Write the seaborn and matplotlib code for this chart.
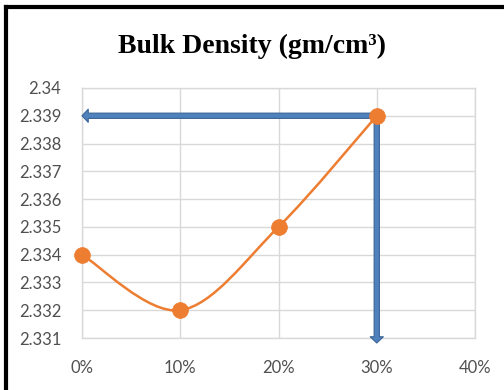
import numpy as np
import pandas as pd
import matplotlib
matplotlib.use("Agg")
import matplotlib.pyplot as plt
from matplotlib.path import Path
from matplotlib.patches import PathPatch
from matplotlib.lines import Line2D
import seaborn as sns

# Data
replacement_pct = [0, 10, 20, 30]
bulk_density = [2.334, 2.332, 2.335, 2.339]
x_tick_labels = ["0%", "10%", "20%", "30%", "40%"]
y_ticks = [2.331, 2.332, 2.333, 2.334, 2.335, 2.336, 2.337, 2.338, 2.339, 2.34]
y_tick_labels = ["2.331", "2.332", "2.333", "2.334", "2.335", "2.336",
                 "2.337", "2.338", "2.339", "2.34"]
target_pct = 30
target_density = 2.339

df = pd.DataFrame({"pct": replacement_pct, "density": bulk_density})

sns.set_theme(style="white")
plt.rcParams["font.family"] = ["Lato", "DejaVu Sans"]

fig = plt.figure(figsize=(5.04, 3.90), dpi=100)
ax = fig.add_axes([0.1627, 0.1333, 0.7798, 0.6411])

ORANGE = "#ED7D31"
BLUE = "#4F81BD"
BLUE_EDGE = "#3A6597"
GRID = "#D9D9D9"
TEXT = "#505050"

ax.set_xlim(0, 40)
ax.set_ylim(2.331, 2.340)
ax.set_xticks([0, 10, 20, 30, 40])
ax.set_xticklabels(x_tick_labels)
ax.set_yticks(y_ticks)
ax.set_yticklabels(y_tick_labels)
ax.grid(True, color=GRID, linewidth=1.0)
ax.set_axisbelow(True)
for s in ax.spines.values():
    s.set_color(GRID)
    s.set_linewidth(1.0)
ax.tick_params(axis="both", length=0, labelsize=12, colors=TEXT)
ax.tick_params(axis="x", pad=16)
ax.tick_params(axis="y", pad=15)

# Arrows marking the 30% reading
arrow_style = "simple,head_length=0.45,head_width=0.95,tail_width=0.38"
arrow_kw = dict(arrowstyle=arrow_style, fc=BLUE, ec=BLUE_EDGE, lw=0.8,
                shrinkA=0, shrinkB=0, mutation_scale=10, zorder=3)
ax.annotate("", xy=(0, target_density), xytext=(target_pct, target_density),
            arrowprops=dict(**arrow_kw), annotation_clip=False)
ax.annotate("", xy=(target_pct, 2.33082), xytext=(target_pct, target_density),
            arrowprops=dict(**arrow_kw), annotation_clip=False)

# Smoothed connecting line (cubic Bezier segments through the data points)
pts = np.column_stack([df["pct"].to_numpy(float), df["density"].to_numpy(float)])
n = len(pts)
verts = [tuple(pts[0])]
codes = [Path.MOVETO]
for i in range(n - 1):
    p_prev = pts[i - 1] if i > 0 else pts[i]
    p_next2 = pts[i + 2] if i + 2 < n else pts[i + 1]
    c1 = pts[i] + (pts[i + 1] - p_prev) / 6.0
    c2 = pts[i + 1] - (p_next2 - pts[i]) / 6.0
    verts += [tuple(c1), tuple(c2), tuple(pts[i + 1])]
    codes += [Path.CURVE4] * 3
ax.add_patch(PathPatch(Path(verts, codes), facecolor="none",
                       edgecolor=ORANGE, lw=1.8, zorder=4, capstyle="round"))

sns.scatterplot(data=df, x="pct", y="density", color=ORANGE, s=130,
                edgecolor=ORANGE, linewidth=0.5, zorder=5, ax=ax, clip_on=False)
ax.set_xlabel("")
ax.set_ylabel("")

fig.text(0.5, 0.881, "Bulk Density (gm/cm³)", ha="center", va="center",
         fontsize=20, fontweight="bold", family=["Liberation Serif", "DejaVu Serif"],
         color="black")

# Frame lines along the top and left edges
fig.add_artist(Line2D([0.0125, 0.0125], [0, 0.981], transform=fig.transFigure,
                      color="black", lw=3.0, solid_capstyle="projecting"))
fig.add_artist(Line2D([0.0125, 1.0], [0.981, 0.981], transform=fig.transFigure,
                      color="black", lw=3.0, solid_capstyle="projecting"))

fig.savefig("out.png", dpi=100, facecolor="white")
